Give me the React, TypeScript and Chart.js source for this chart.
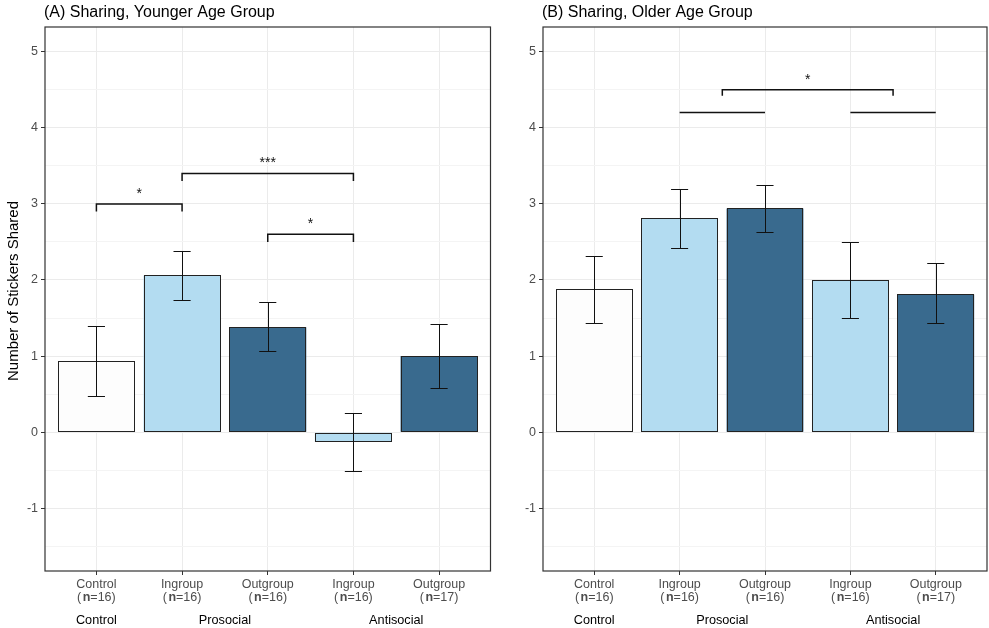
import React, { useEffect, useRef } from "react";
import { Chart, registerables } from "chart.js";

Chart.register(...registerables);

// ---------- data ----------
const categories = ["Control", "Ingroup", "Outgroup", "Ingroup", "Outgroup"];
const nCounts = [16, 16, 16, 16, 17];
const groupLabels = ["Control", "Prosocial", "Antisocial"];
const groupSpans = [
  [1, 1],
  [2, 3],
  [4, 5],
];
const yTicks = [-1, 0, 1, 2, 3, 4, 5];

const youngerMeans = [0.93, 2.06, 1.38, -0.13, 1.0];
const youngerLower = [0.47, 1.74, 1.06, -0.51, 0.58];
const youngerUpper = [1.4, 2.38, 1.71, 0.25, 1.42];

const olderMeans = [1.875, 2.81, 2.94, 2.0, 1.81];
const olderLower = [1.43, 2.42, 2.63, 1.5, 1.43];
const olderUpper = [2.32, 3.19, 3.25, 2.5, 2.22];

const youngerBrackets = [
  { from: 1, to: 2, y: 3.0, drop: 0.1, label: "*" },
  { from: 2, to: 4, y: 3.4, drop: 0.1, label: "***" },
  { from: 3, to: 4, y: 2.6, drop: 0.1, label: "*" },
];
const olderBrackets = [
  { from: 2, to: 3, y: 4.2, drop: 0, label: "" },
  { from: 4, to: 5, y: 4.2, drop: 0, label: "" },
  { from: 2.5, to: 4.5, y: 4.5, drop: 0.08, label: "*" },
];

// ---------- style ----------
const FONT = '"Liberation Sans", Arial, Helvetica, sans-serif';
const barColors = ["#FDFDFD", "#B3DCF1", "#396A8E", "#B3DCF1", "#396A8E"];
const Y_MIN = -1.825;
const Y_MAX = 5.325;
const X_MIN = 0.4;
const X_MAX = 5.6;
const CAP_HALF = 0.1;

type Bracket = { from: number; to: number; y: number; drop: number; label: string };

type PanelProps = {
  title: string;
  means: number[];
  lower: number[];
  upper: number[];
  brackets: Bracket[];
  yTitle: string | null;
  left: number;
  width: number;
  leftW: number;
  rightPad: number;
};

function Panel(props: PanelProps) {
  const ref = useRef<HTMLCanvasElement>(null);
  useEffect(() => {
    const { title, means, lower, upper, brackets, yTitle, leftW, rightPad } = props;
    const overlay = {
      id: "overlay",
      afterDatasetsDraw(chart: any) {
        const ctx = chart.ctx as CanvasRenderingContext2D;
        const xs = chart.scales.x;
        const ys = chart.scales.y;
        ctx.save();
        // bar outlines (full rectangle, crisp)
        const meta = chart.getDatasetMeta(0);
        ctx.strokeStyle = "#222";
        ctx.lineWidth = 1;
        meta.data.forEach((el: any) => {
          const w = el.width;
          const x0 = Math.round(el.x - w / 2) + 0.5;
          const x1 = Math.round(el.x + w / 2) - 0.5;
          const y0 = Math.round(Math.min(el.y, el.base)) + 0.5;
          const y1 = Math.round(Math.max(el.y, el.base)) - 0.5;
          ctx.strokeRect(x0, y0, x1 - x0, y1 - y0);
        });
        // error bars
        ctx.strokeStyle = "#111";
        ctx.lineWidth = 1;
        for (let i = 0; i < means.length; i++) {
          const cx = Math.round(xs.getPixelForValue(i + 1)) + 0.5;
          const x0 = xs.getPixelForValue(i + 1 - CAP_HALF);
          const x1 = xs.getPixelForValue(i + 1 + CAP_HALF);
          const yl = Math.round(ys.getPixelForValue(lower[i])) + 0.5;
          const yu = Math.round(ys.getPixelForValue(upper[i])) + 0.5;
          ctx.beginPath();
          ctx.moveTo(cx, yl);
          ctx.lineTo(cx, yu);
          ctx.moveTo(x0, yl);
          ctx.lineTo(x1, yl);
          ctx.moveTo(x0, yu);
          ctx.lineTo(x1, yu);
          ctx.stroke();
        }
        // brackets
        ctx.strokeStyle = "#111";
        ctx.lineWidth = 1.5;
        ctx.fillStyle = "#111";
        ctx.font = `14px ${FONT}`;
        ctx.textAlign = "center";
        ctx.textBaseline = "alphabetic";
        for (const b of brackets) {
          const xa = xs.getPixelForValue(b.from);
          const xb = xs.getPixelForValue(b.to);
          const yb = ys.getPixelForValue(b.y);
          const yd = ys.getPixelForValue(b.y - b.drop);
          ctx.beginPath();
          ctx.moveTo(xa, yd);
          ctx.lineTo(xa, yb);
          ctx.lineTo(xb, yb);
          ctx.lineTo(xb, yd);
          ctx.stroke();
          if (b.label) {
            ctx.fillText(b.label, (xa + xb) / 2, yb - 6);
          }
        }
        ctx.restore();
      },
      afterDraw(chart: any) {
        const ctx = chart.ctx as CanvasRenderingContext2D;
        const a = chart.chartArea;
        const xs = chart.scales.x;
        ctx.save();
        // panel border
        ctx.strokeStyle = "#333";
        ctx.lineWidth = 1.2;
        ctx.strokeRect(a.left, a.top, a.right - a.left, a.bottom - a.top);
        // title
        ctx.fillStyle = "#000";
        ctx.font = `16px ${FONT}`;
        ctx.textAlign = "left";
        ctx.textBaseline = "alphabetic";
        ctx.fillText(title, a.left - 1, 17);
        // x tick labels
        const normal = `12.5px ${FONT}`;
        const bold = `bold 12.5px ${FONT}`;
        ctx.fillStyle = "#4d4d4d";
        for (let i = 0; i < categories.length; i++) {
          const cx = xs.getPixelForValue(i + 1);
          ctx.font = normal;
          ctx.textAlign = "center";
          ctx.fillText(categories[i], cx, 588);
          const parts: [string, string, number][] = [
            ["(", normal, 1.5],
            ["n", bold, 0],
            [`=${nCounts[i]})`, normal, 0],
          ];
          let total = 0;
          const ws = parts.map(([t, f, g]) => {
            ctx.font = f;
            const w = ctx.measureText(t).width + g;
            total += w;
            return w;
          });
          let x = cx - total / 2;
          ctx.textAlign = "left";
          parts.forEach(([t, f], k) => {
            ctx.font = f;
            ctx.fillText(t, x, 601);
            x += ws[k];
          });
        }
        // group labels
        ctx.fillStyle = "#000";
        ctx.font = `12.7px ${FONT}`;
        ctx.textAlign = "center";
        groupLabels.forEach((g, k) => {
          const cx = (xs.getPixelForValue(groupSpans[k][0]) + xs.getPixelForValue(groupSpans[k][1])) / 2;
          ctx.fillText(g, cx, 624);
        });
        // y title
        if (yTitle) {
          ctx.translate(18, (a.top + a.bottom) / 2 - 8);
          ctx.rotate(-Math.PI / 2);
          ctx.font = `15px ${FONT}`;
          ctx.fillStyle = "#000";
          ctx.textAlign = "center";
          ctx.fillText(yTitle, 0, 0);
        }
        ctx.restore();
      },
    };

    const minorAndMajor = [...yTicks, ...yTicks.map((v) => v - 0.5)].sort((p, q) => p - q);

    const chart = new Chart(ref.current as HTMLCanvasElement, {
      type: "bar",
      data: {
        datasets: [
          {
            data: means.map((m, i) => ({ x: i + 1, y: m })),
            backgroundColor: barColors,
            borderWidth: 0,
            barPercentage: 0.9,
            categoryPercentage: 1,
          } as any,
        ],
      },
      options: {
        animation: false,
        responsive: false,
        maintainAspectRatio: false,
        layout: { padding: { top: 27, right: rightPad, left: 0, bottom: 0 } },
        plugins: {
          legend: { display: false },
          tooltip: { enabled: false },
        },
        scales: {
          x: {
            type: "linear",
            min: X_MIN,
            max: X_MAX,
            offset: false,
            afterBuildTicks: (s: any) => {
              s.ticks = categories.map((_, i) => ({ value: i + 1 }));
            },
            ticks: { display: false },
            grid: {
              offset: false,
              color: "#ebebeb",
              lineWidth: 1,
              tickColor: "#333",
              tickLength: 4,
              drawTicks: true,
            },
            border: { display: false },
            afterFit: (s: any) => {
              s.height = 57;
            },
          },
          y: {
            type: "linear",
            min: Y_MIN,
            max: Y_MAX,
            afterBuildTicks: (s: any) => {
              s.ticks = minorAndMajor.map((v) => ({ value: v }));
            },
            ticks: {
              autoSkip: false,
              color: "#4d4d4d",
              font: { size: 12.5, family: FONT },
              padding: 3,
              callback: (v: any) => (yTicks.includes(Number(v)) ? String(v) : ""),
            },
            grid: {
              color: (c: any) => (yTicks.includes(c.tick?.value) ? "#ebebeb" : "#f4f4f4"),
              lineWidth: 1,
              tickColor: (c: any) => (yTicks.includes(c.tick?.value) ? "#333" : "rgba(0,0,0,0)"),
              tickLength: 4,
            },
            border: { display: false },
            afterFit: (s: any) => {
              s.width = leftW;
            },
          },
        },
      } as any,
      plugins: [overlay],
    });
    return () => chart.destroy();
  }, []);
  return (
    <canvas
      ref={ref}
      width={props.width}
      height={628}
      style={{ position: "absolute", left: props.left, top: 0, width: props.width, height: 628 }}
    />
  );
}

export default function App() {
  return (
    <div style={{ position: "fixed", left: 0, top: 0, width: 989, height: 628, background: "#fff" }}>
      <Panel
        title="(A) Sharing, Younger Age Group"
        means={youngerMeans}
        lower={youngerLower}
        upper={youngerUpper}
        brackets={youngerBrackets}
        yTitle="Number of Stickers Shared"
        left={0}
        width={494}
        leftW={45}
        rightPad={3.5}
      />
      <Panel
        title="(B) Sharing, Older Age Group"
        means={olderMeans}
        lower={olderLower}
        upper={olderUpper}
        brackets={olderBrackets}
        yTitle={null}
        left={494}
        width={495}
        leftW={49}
        rightPad={2}
      />
    </div>
  );
}
